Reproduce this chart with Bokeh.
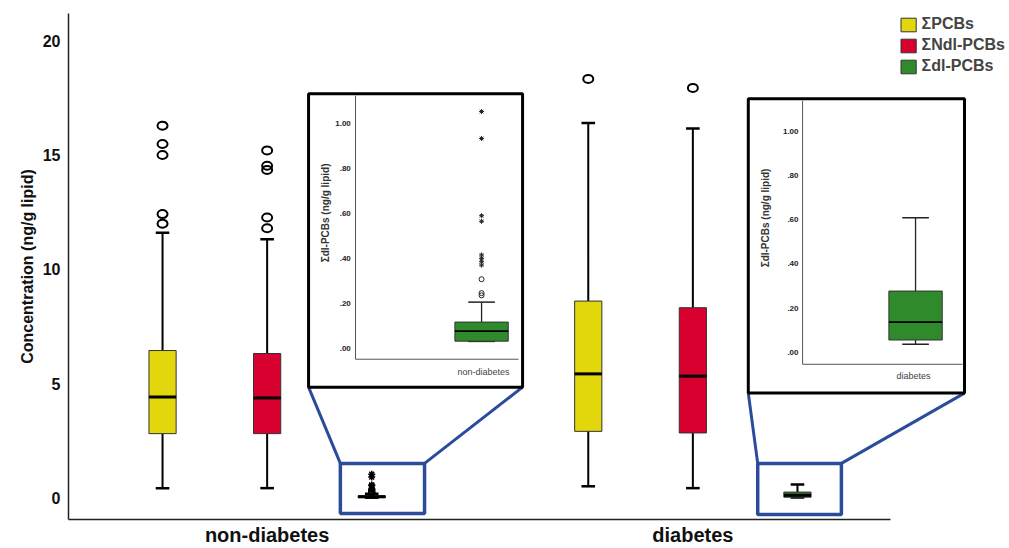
from bokeh.plotting import figure
from bokeh.models import Range1d, FixedTicker, Legend, LegendItem, ColumnDataSource
from bokeh.core.properties import value
from bokeh.embed import file_html
from bokeh.resources import INLINE

# ---------------- data ----------------
groups = ["non-diabetes", "diabetes"]
series = ["ΣPCBs", "ΣNdl-PCBs", "Σdl-PCBs"]
colors = ["#e2d60c", "#d8002f", "#2f8a2c"]

# box statistics per series, order = groups (non-diabetes, diabetes)
pcb_low = [0.45, 0.53]
pcb_q1 = [2.83, 2.93]
pcb_med = [4.43, 5.44]
pcb_q3 = [6.46, 8.62]
pcb_high = [11.6, 16.4]
pcb_out_nd = [12.0, 12.42, 15.0, 15.48, 16.28]
pcb_out_d = [18.32]

ndl_low = [0.45, 0.45]
ndl_q1 = [2.83, 2.86]
ndl_med = [4.39, 5.34]
ndl_q3 = [6.33, 8.33]
ndl_high = [11.32, 16.16]
ndl_out_nd = [11.8, 12.27, 14.35, 14.53, 15.2]
ndl_out_d = [17.93]

dl_low = [0.03, 0.036]
dl_q1 = [0.031, 0.055]
dl_med = [0.076, 0.136]
dl_q3 = [0.116, 0.277]
dl_high = [0.205, 0.61]
dl_circ_nd = [0.235, 0.245, 0.307]
dl_star_nd = [0.37, 0.385, 0.40, 0.415, 0.565, 0.59, 0.934, 1.054]

y_ticks = [0, 5, 10, 15, 20]
inset_ticks = [0.0, 0.2, 0.4, 0.6, 0.8, 1.0]
inset1_tick_labels = [".00", ".20", ".40", ".60", ".80", "1.00"]
inset2_tick_labels = [".00", ".20", ".40", ".60", ".80", "1.00"]
inset_ylabel = "Σdl-PCBs (ng/g lipid)"

# ---------------- layout ----------------
FONT = value("Liberation Sans")
group_center = [2.0, 6.07]
series_offset = [-1.0, 0.0, 1.0]
BOX_W = 0.26
X0, X1 = 0.101, 9.078
Y0, Y1 = -0.92, 21.18

# insets: main-y = base + scale * inset value
in1_base, in1_scale = 6.565, 9.803
in2_base, in2_scale = 6.39, 9.628

p = figure(width=1009, height=548, output_backend="svg", toolbar_location=None,
           x_range=Range1d(X0, X1), y_range=Range1d(Y0, Y1),
           min_border_left=68, min_border_right=2, min_border_top=13, min_border_bottom=27)
p.extra_y_ranges = {
    "in1": Range1d((Y0 - in1_base) / in1_scale, (Y1 - in1_base) / in1_scale),
    "in2": Range1d((Y0 - in2_base) / in2_scale, (Y1 - in2_base) / in2_scale),
}
p.outline_line_color = None
p.xgrid.visible = False
p.ygrid.visible = False
p.background_fill_color = "white"

# axes
p.yaxis.ticker = FixedTicker(ticks=y_ticks)
p.yaxis.major_tick_out = 0
p.yaxis.major_tick_in = 0
p.yaxis.minor_tick_out = 0
p.yaxis.minor_tick_in = 0
p.yaxis.axis_line_color = "#222"
p.yaxis.axis_line_width = 1.5
p.yaxis.major_label_text_font = "Liberation Sans"
p.yaxis.major_label_text_font_style = "bold"
p.yaxis.major_label_text_font_size = "16px"
p.yaxis.major_label_text_color = "#111"
p.yaxis.major_label_standoff = 8
p.yaxis.axis_label = "Concentration (ng/g lipid)"
p.yaxis.axis_label_text_font = "Liberation Sans"
p.yaxis.axis_label_text_font_style = "bold"
p.yaxis.axis_label_text_font_size = "16px"
p.yaxis.axis_label_text_color = "#111"
p.yaxis.axis_label_standoff = 4

p.xaxis.ticker = FixedTicker(ticks=group_center)
p.xaxis.major_label_overrides = {group_center[i]: groups[i] for i in range(2)}
p.xaxis.major_tick_out = 0
p.xaxis.major_tick_in = 0
p.xaxis.minor_tick_out = 0
p.xaxis.minor_tick_in = 0
p.xaxis.axis_line_color = "#222"
p.xaxis.axis_line_width = 1.5
p.xaxis.bounds = (X0, 7.96)
p.xaxis.major_label_text_font = "Liberation Sans"
p.xaxis.major_label_text_font_style = "bold"
p.xaxis.major_label_text_font_size = "20px"
p.xaxis.major_label_text_color = "#111"
p.xaxis.major_label_standoff = 4

stats = [
    (pcb_low, pcb_q1, pcb_med, pcb_q3, pcb_high),
    (ndl_low, ndl_q1, ndl_med, ndl_q3, ndl_high),
    (dl_low, dl_q1, dl_med, dl_q3, dl_high),
]

legend_items = []
for si, (lo, q1, med, q3, hi) in enumerate(stats):
    xs = [group_center[g] + series_offset[si] for g in range(2)]
    src = ColumnDataSource(dict(x=xs, lo=lo, q1=q1, med=med, q3=q3, hi=hi,
                                xl=[x - BOX_W / 4 for x in xs], xr=[x + BOX_W / 4 for x in xs],
                                ml=[x - BOX_W / 2 for x in xs], mr=[x + BOX_W / 2 for x in xs]))
    p.segment(x0="x", y0="q3", x1="x", y1="hi", source=src, line_color="black", line_width=2)
    p.segment(x0="x", y0="lo", x1="x", y1="q1", source=src, line_color="black", line_width=2)
    p.segment(x0="xl", y0="hi", x1="xr", y1="hi", source=src, line_color="black", line_width=2.5)
    p.segment(x0="xl", y0="lo", x1="xr", y1="lo", source=src, line_color="black", line_width=2.5)
    r = p.vbar(x="x", width=BOX_W, bottom="q1", top="q3", source=src,
               fill_color=colors[si], line_color="#333", line_width=1)
    p.segment(x0="ml", y0="med", x1="mr", y1="med", source=src, line_color="black", line_width=3)
    legend_items.append(LegendItem(label=series[si], renderers=[r]))

# main outliers
circ_x, circ_y = [], []
for si, outs in enumerate([(pcb_out_nd, pcb_out_d), (ndl_out_nd, ndl_out_d)]):
    for g in range(2):
        for v in outs[g]:
            circ_x.append(group_center[g] + series_offset[si])
            circ_y.append(v)
p.ellipse(x=circ_x, y=circ_y, width=10, height=8, width_units="screen", height_units="screen",
          fill_color=None, line_color="black", line_width=2)
xg = group_center[0] + series_offset[2]
p.ellipse(x=[xg] * len(dl_circ_nd), y=dl_circ_nd, width=6, height=5, width_units="screen",
          height_units="screen", fill_color=None, line_color="black", line_width=1.5)
p.scatter(x=[xg] * len(dl_star_nd), y=dl_star_nd, marker="asterisk", size=7,
          line_color="black", line_width=1.5)

# ---------------- zoom boxes & insets (layout in main units) ----------------
BLUE = "#2b4c9b"
zoom_boxes = dict(left=[2.70, 6.69], right=[3.505, 7.49], top=[1.53, 1.53], bottom=[-0.66, -0.70])
inset_frames = dict(left=[2.396, 6.60], right=[4.442, 8.667], top=[17.68, 17.46], bottom=[4.86, 4.60])
p.segment(x0=[inset_frames["left"][0], inset_frames["right"][0], inset_frames["left"][1], inset_frames["right"][1]],
          y0=[inset_frames["bottom"][0], inset_frames["bottom"][0], inset_frames["bottom"][1], inset_frames["bottom"][1]],
          x1=[zoom_boxes["left"][0], zoom_boxes["right"][0], zoom_boxes["left"][1], zoom_boxes["right"][1]],
          y1=[zoom_boxes["top"][0]] * 4, line_color=BLUE, line_width=3)
p.quad(**zoom_boxes, fill_color=None, line_color=BLUE, line_width=3.5)
p.quad(**inset_frames, fill_color="white", line_color="black", line_width=3)

inset_axis_x = [2.845, 7.119]
inset_axis_top = [17.59, 17.37]
inset_axis_bottom = [6.08, 5.86]
inset_axis_right = [4.403, 8.648]
p.segment(x0=inset_axis_x, y0=inset_axis_bottom, x1=inset_axis_x, y1=inset_axis_top,
          line_color="#555", line_width=1)
p.segment(x0=inset_axis_x, y0=inset_axis_bottom, x1=inset_axis_right, y1=inset_axis_bottom,
          line_color="#555", line_width=1)

inset_box_x = [4.05, 8.199]
INSET_W = 0.51
inset_label_x = [2.80, 7.08]
inset_ylabel_x = [2.558, 6.765]
inset_ylabel_y = [12.47, 12.25]
inset_xlabel_x = [4.069, 8.18]
inset_xlabel_y = [5.51, 5.34]
tick_sets = [inset1_tick_labels, inset2_tick_labels]

for g, rn in enumerate(["in1", "in2"]):
    x = inset_box_x[g]
    src = ColumnDataSource(dict(x=[x], lo=[dl_low[g]], q1=[dl_q1[g]], med=[dl_med[g]],
                                q3=[dl_q3[g]], hi=[dl_high[g]],
                                xl=[x - INSET_W / 4], xr=[x + INSET_W / 4],
                                ml=[x - INSET_W / 2], mr=[x + INSET_W / 2]))
    p.segment(x0="x", y0="q3", x1="x", y1="hi", source=src, line_color="#222", line_width=1.3, y_range_name=rn)
    p.segment(x0="x", y0="lo", x1="x", y1="q1", source=src, line_color="#222", line_width=1.3, y_range_name=rn)
    p.segment(x0="xl", y0="hi", x1="xr", y1="hi", source=src, line_color="#222", line_width=1.5, y_range_name=rn)
    p.segment(x0="xl", y0="lo", x1="xr", y1="lo", source=src, line_color="#222", line_width=1.5, y_range_name=rn)
    p.vbar(x="x", width=INSET_W, bottom="q1", top="q3", source=src, fill_color=colors[2],
           line_color="#333", line_width=1, y_range_name=rn)
    p.segment(x0="ml", y0="med", x1="mr", y1="med", source=src, line_color="black", line_width=1.8, y_range_name=rn)
    p.text(x=[inset_label_x[g]] * len(inset_ticks), y=inset_ticks, text=tick_sets[g],
           text_font=FONT, text_font_size="8px", text_font_style="bold", text_color="#222",
           text_align="right", text_baseline="middle", y_range_name=rn)
    p.text(x=[inset_ylabel_x[g]], y=[inset_ylabel_y[g]], text=[inset_ylabel], angle=1.5708,
           text_font=FONT, text_font_size="10px", text_font_style="bold", text_color="#333",
           text_align="center", text_baseline="middle")
    p.text(x=[inset_xlabel_x[g]], y=[inset_xlabel_y[g]], text=[groups[g]],
           text_font=FONT, text_font_size="9px", text_color="#444",
           text_align="center", text_baseline="middle")

p.scatter(x=[inset_box_x[0]] * len(dl_circ_nd), y=dl_circ_nd, marker="circle", size=5,
          fill_color=None, line_color="#222", line_width=1, y_range_name="in1")
p.scatter(x=[inset_box_x[0]] * len(dl_star_nd), y=dl_star_nd, marker="asterisk", size=5,
          line_color="#222", line_width=1, y_range_name="in1")

legend = Legend(items=legend_items, location="top_right", border_line_color=None,
                background_fill_alpha=0, label_text_font="Liberation Sans",
                label_text_font_style="bold", label_text_font_size="16px",
                glyph_width=19, glyph_height=17, spacing=3, padding=0, margin=2,
                label_standoff=4, label_height=17)
p.add_layout(legend)

open("out.html", "w").write(file_html(p, INLINE))
